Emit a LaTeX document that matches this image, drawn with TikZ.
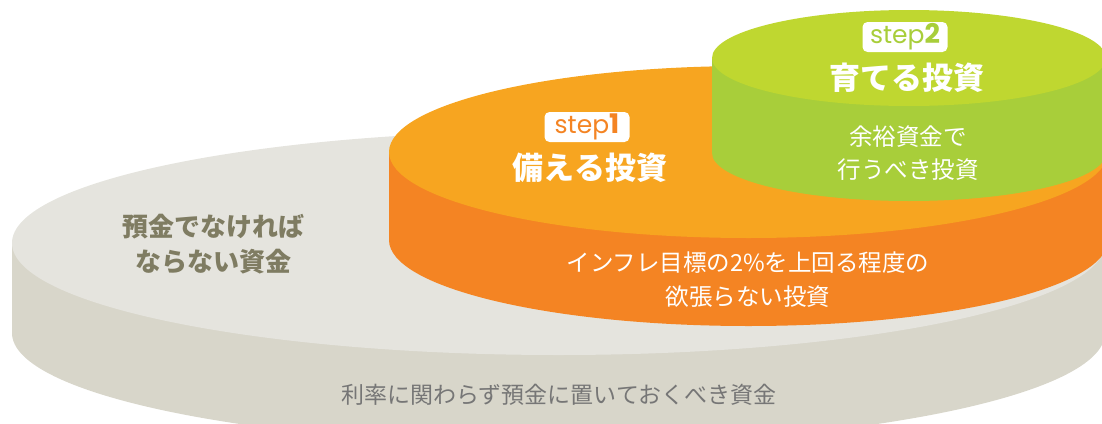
\documentclass[tikz,border=0pt]{standalone}
\usepackage{fontspec}
\newfontfamily\jp{Noto Sans CJK JP}
\newfontfamily\stepfont{Poppins}
\definecolor{greytop}{HTML}{E5E4DE}
\definecolor{greyside}{HTML}{D8D6CA}
\definecolor{orgtop}{HTML}{F7A520}
\definecolor{orgside}{HTML}{F48423}
\definecolor{grntop}{HTML}{BFD730}
\definecolor{grnside}{HTML}{A8CE3A}
\definecolor{olivetxt}{HTML}{7F7C62}
\definecolor{greytxt}{HTML}{767676}
\newcommand\mydisc[7]{%
  \fill[#7] (#1-#3,#2) rectangle (#1+#3,#2+#5);
  \fill[#7] (#1,#2+#5) ellipse [x radius=#3, y radius=#4];
  \fill[#6] (#1,#2) ellipse [x radius=#3, y radius=#4];
}
\newcommand\stepnum[1]{{\fontsize{27}{27}\selectfont\bfseries #1}}
\tikzset{
  title/.style={font=\jp\bfseries\fontsize{31}{31}\selectfont, text=white, inner sep=0pt},
  body/.style={font=\jp\fontsize{23.5}{23.5}\selectfont, text=white, inner sep=0pt},
  greybold/.style={font=\jp\bfseries\fontsize{26}{26}\selectfont, text=olivetxt, inner sep=0pt},
  greynote/.style={font=\jp\fontsize{23}{23}\selectfont, text=greytxt, inner sep=0pt},
  stepbox/.style={fill=white, rounded corners=5pt, minimum width=85pt, minimum height=30pt,
    inner xsep=6pt, inner ysep=0pt, font=\stepfont\fontsize{25}{25}\selectfont},
}
\begin{document}
\begin{tikzpicture}[x=1pt,y=-1pt]
\useasboundingbox (0,0) rectangle (1102,423);
\clip (0,0) rectangle (1102,423);
% grey disc
\mydisc{558.5}{243}{546.5}{112}{90}{greytop}{greyside}
% orange disc
\mydisc{748.5}{152}{359.5}{86}{88}{orgtop}{orgside}
% green disc
\mydisc{909}{58}{197}{48}{95}{grntop}{grnside}
% texts
\node[stepbox, text=orgside] (s1) at (587,127) {step\stepnum{1}};
\node[title] (t1) at (590,168) {備える投資};
\node[stepbox, text=grnside] (s2) at (905,37) {step\stepnum{2}};
\node[title] (t2) at (907,78) {育てる投資};
\node[body] (g1) at (908,137) {余裕資金で};
\node[body] (g2) at (908,170) {行うべき投資};
\node[body] (o1) at (748,263) {インフレ目標の2\%を上回る程度の};
\node[body] (o2) at (748,297) {欲張らない投資};
\node[greybold] (b1) at (213,227) {預金でなければ};
\node[greybold] (b2) at (213,262) {ならない資金};
\node[greynote] (n1) at (559,395) {利率に関わらず預金に置いておくべき資金};
\end{tikzpicture}
\end{document}
